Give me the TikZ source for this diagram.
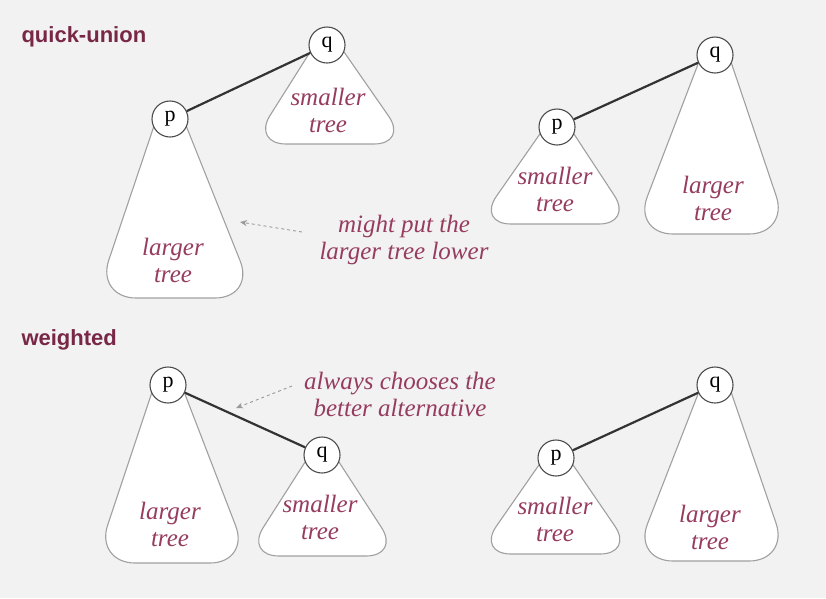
\documentclass[tikz,border=0pt]{standalone}
\usepackage{fontspec}
\setmainfont{Liberation Serif}
\newfontfamily\titlefont{Liberation Sans}
\usetikzlibrary{arrows.meta}
\definecolor{bg}{HTML}{F2F2F2}
\definecolor{titlecol}{RGB}{120,40,70}
\definecolor{notecol}{RGB}{150,60,95}
\definecolor{treeedge}{HTML}{A0A0A0}
\tikzset{
 treebody/.style={draw=treeedge, line width=1.1pt, fill=white},
 vtx/.style={circle, draw=black!70, line width=1.1pt, fill=white, minimum size=36pt, inner sep=0pt, font=\fontsize{22}{22}\selectfont},
 link/.style={line width=2.2pt, draw=black!80},
 treetext/.style={align=center, text=notecol, font=\fontsize{25}{27}\selectfont\itshape},
 note/.style={align=center, text=notecol, font=\fontsize{25}{27}\selectfont\itshape},
 pointer/.style={draw=black!40, dashed, line width=0.9pt, -{Stealth[length=7pt,width=6pt]}},
 sectitle/.style={anchor=west, text=titlecol, font=\titlefont\bfseries\fontsize{22}{22}\selectfont}
}
\newcommand\treeshape[6]{\draw[treebody, rounded corners=#6] (#1-15,#2+4) -- (#3,#5) -- (#4,#5) -- (#1+15,#2+4);}
\begin{document}
\begin{tikzpicture}[x=1pt,y=-1pt]
\fill[bg] (0,0) rectangle (826,598);
\useasboundingbox (0,0) rectangle (826,598);

% titles
\node[sectitle] (t1) at (18,37) {quick-union};
\node[sectitle] (t2) at (18,340) {weighted};

% ---- top-left
\treeshape{170}{119}{96}{255}{298}{40pt}
\treeshape{327}{45}{252}{408}{144}{34pt}
\node[treetext] (l1) at (173,260) {larger\\tree};
\node[treetext] (s1) at (328,110) {smaller\\tree};
\node[vtx] (p1) at (170,119) {p};
\node[vtx] (q1) at (327,45) {q};
\draw[link] (p1) -- (q1);

% ---- top-right
\treeshape{715}{55}{633}{789}{234}{40pt}
\treeshape{557}{127}{477}{633}{224}{34pt}
\node[treetext] (l2) at (713,198) {larger\\tree};
\node[treetext] (s2) at (555,189) {smaller\\tree};
\node[vtx] (p2) at (557,127) {p};
\node[vtx] (q2) at (715,55) {q};
\draw[link] (p2) -- (q2);

% ---- bottom-left
\treeshape{168}{385}{95}{250}{563}{40pt}
\treeshape{322}{455}{245}{400}{556}{34pt}
\node[treetext] (l3) at (170,524) {larger\\tree};
\node[treetext] (s3) at (320,517) {smaller\\tree};
\node[vtx] (p3) at (168,385) {p};
\node[vtx] (q3) at (322,455) {q};
\draw[link] (p3) -- (q3);

% ---- bottom-right
\treeshape{715}{385}{633}{789}{561}{40pt}
\treeshape{556}{458}{477}{634}{554}{34pt}
\node[treetext] (l4) at (710,527) {larger\\tree};
\node[treetext] (s4) at (555,519) {smaller\\tree};
\node[vtx] (p4) at (556,458) {p};
\node[vtx] (q4) at (715,385) {q};
\draw[link] (p4) -- (q4);

% notes
\node[note] (n1) at (404,240) {might put the\\larger tree lower};
\node[note] (n2) at (400,394) {always chooses the\\better alternative};
\coordinate (a1s) at (302,232);
\coordinate (a1e) at (240,222);
\coordinate (a2s) at (292,386);
\coordinate (a2e) at (236,408);
\draw[pointer] (a1s) -- (a1e);
\draw[pointer] (a2s) -- (a2e);
\end{tikzpicture}
\end{document}
